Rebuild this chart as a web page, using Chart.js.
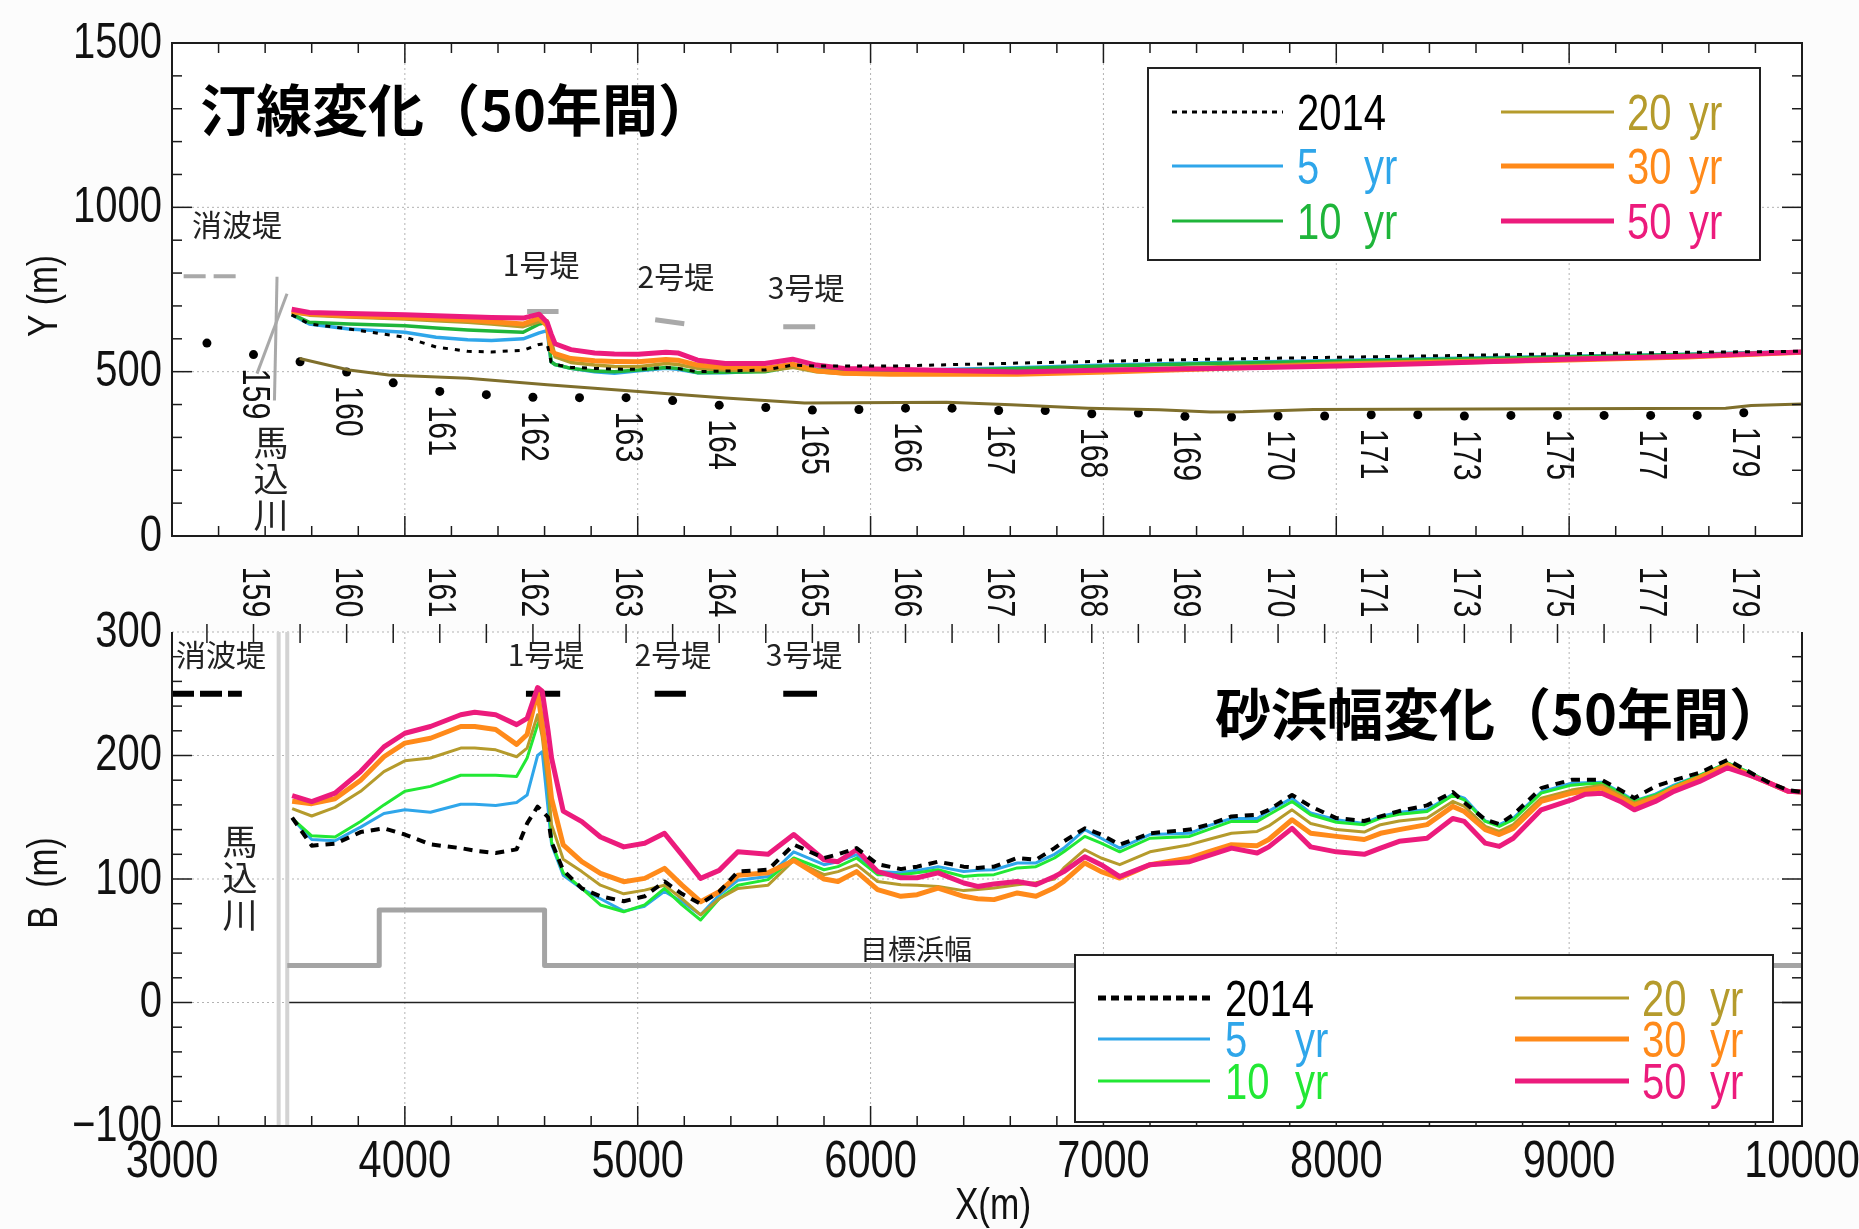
<!DOCTYPE html>
<html lang="ja">
<head>
<meta charset="utf-8">
<title>汀線変化・砂浜幅変化（50年間）</title>
<script src="https://cdn.jsdelivr.net/npm/chart.js@4.4.1/dist/chart.umd.min.js"></script>
<style>
  html, body { margin: 0; padding: 0; background: #fcfcfc; }
  #wrap { position: relative; width: 1859px; height: 1229px; overflow: hidden; }
  #wrap canvas { position: absolute; left: 0; top: 0; }
</style>
</head>
<body>
<div id="wrap">
  <canvas id="upper" width="1859" height="1229"></canvas>
  <canvas id="lower" width="1859" height="1229"></canvas>
</div>
<script>
// ================= data: upper panel (shoreline position Y, m) =================
const shoreX    = [3514, 3590, 3760, 4000, 4134, 4270, 4372, 4508, 4577, 4611, 4628, 4645, 4713, 4815, 4900, 5002, 5121, 5172, 5257, 5376, 5546, 5665, 5767, 5886, 6087, 6630, 7017, 7460, 8013, 8400, 8953, 9506, 10000];
const shore2014 = [673, 645, 630, 605, 575, 562, 560, 565, 583, 585, 530, 522, 513, 510, 508, 507, 513, 510, 500, 502, 505, 520, 517, 517, 517, 526, 532, 538, 544, 548, 554, 559, 562];
const shore5    = [673, 645, 630, 620, 605, 597, 595, 600, 618, 625, 530, 522, 510, 500, 495, 503, 510, 507, 497, 497, 503, 523, 508, 505, 503, 512, 520, 527, 534, 539, 546, 553, 561];
const shore10   = [675, 650, 645, 640, 633, 627, 624, 620, 645, 650, 530, 522, 510, 502, 500, 505, 513, 510, 497, 498, 500, 515, 505, 502, 500, 510, 517, 525, 532, 537, 545, 552, 560];
const shore20   = [680, 672, 666, 660, 655, 650, 645, 637, 652, 655, 600, 545, 528, 520, 516, 515, 525, 522, 510, 505, 503, 513, 500, 494, 493, 498, 505, 514, 526, 532, 540, 548, 559];
const shore30   = [683, 676, 670, 665, 661, 657, 652, 645, 663, 640, 565, 555, 540, 533, 531, 530, 537, 535, 520, 513, 510, 523, 503, 495, 492, 492, 499, 509, 522, 528, 535, 545, 559];
const shore50   = [690, 680, 677, 673, 670, 667, 665, 663, 675, 650, 615, 585, 567, 557, 554, 553, 559, 557, 535, 525, 525, 538, 520, 510, 507, 499, 505, 510, 517, 525, 537, 547, 560];

// survey baseline
const baseX = [3548, 3760, 3930, 4270, 4611, 5002, 5376, 5716, 6326, 6603, 6934, 7239, 7460, 7600, 7902, 9672, 9782, 10000];
const baseY = [540, 505, 490, 480, 460, 440, 420, 405, 407, 399, 389, 384, 377, 378, 385, 389, 397, 402];

// survey stations (points and numbers)
const stationX  = [3150, 3350, 3550, 3750, 3950, 4150, 4350, 4550, 4750, 4950, 5150, 5350, 5550, 5750, 5950, 6150, 6350, 6550, 6750, 6950, 7150, 7350, 7550, 7750, 7950, 8150, 8350, 8550, 8750, 8950, 9150, 9350, 9550, 9750];
const stationY  = [587, 552, 530, 499, 466, 440, 430, 422, 421, 421, 412, 398, 391, 383, 385, 389, 389, 382, 382, 372, 374, 364, 362, 365, 365, 369, 369, 365, 367, 367, 367, 367, 367, 375];
const stationNo = ['', '159', '', '160', '', '161', '', '162', '', '163', '', '164', '', '165', '', '166', '', '167', '', '168', '', '169', '', '170', '', '171', '', '173', '', '175', '', '177', '', '179'];

// structures drawn in the upper panel
const seawallUX = [3050, 3300], seawallUY = [790, 790];
const groin1UX = [4525, 4660], groin1UY = [683, 683];
const groin2UX = [5075, 5200], groin2UY = [658, 646];
const groin3UX = [5625, 5762], groin3UY = [637, 637];
const riverAUX = [3451, 3440], riverAUY = [789, 412];
const riverBUX = [3494, 3365], riverBUY = [737, 494];

// ================= data: lower panel (beach width B, m) =================
const widthX    = [3516, 3600, 3700, 3810, 3910, 4000, 4110, 4240, 4300, 4390, 4480, 4525, 4570, 4590, 4615, 4630, 4680, 4760, 4840, 4940, 5030, 5115, 5190, 5270, 5350, 5430, 5560, 5670, 5800, 5860, 5940, 6030, 6130, 6200, 6290, 6400, 6460, 6530, 6630, 6710, 6790, 6830, 6920, 6990, 7070, 7200, 7370, 7450, 7550, 7660, 7710, 7810, 7890, 8000, 8120, 8190, 8270, 8390, 8500, 8550, 8640, 8700, 8760, 8880, 9010, 9070, 9140, 9220, 9280, 9370, 9450, 9560, 9680, 9790, 9860, 9940, 10000];
const width2014 = [149.7, 127, 128.5, 138, 141, 136, 128, 125, 123, 121, 124, 145, 158.6, 155, 150, 130, 107, 92.4, 86, 82, 86, 98, 88, 80, 89.7, 106, 107.5, 127.8, 117, 120, 125, 112, 108, 110, 114, 110, 109, 110, 117, 115.6, 125, 130.5, 141, 136, 127.8, 137, 140, 144, 150.7, 152, 156, 168, 158.8, 149.3, 147, 150.7, 155, 159.6, 170.4, 162, 148, 144.5, 152, 173.6, 180.3, 180.3, 180.3, 172, 165.5, 175, 180, 186, 196.5, 185, 178, 172, 170.4];
const width5    = [149, 132, 131, 142, 153, 156, 154, 160.5, 160.5, 159.5, 162, 168, 200, 203, 157, 128, 103, 92, 84, 74, 78, 90, 81.6, 71, 87, 99, 102, 122, 111.6, 114, 119.7, 106, 105, 107, 110, 106, 107, 107.5, 113, 113, 120, 125, 140, 133, 125, 136, 137, 143, 149, 149, 155, 165.5, 153.4, 148, 145, 150.7, 154, 156, 168.7, 165.5, 147, 144, 149.3, 170.4, 177.6, 178, 178.4, 170.4, 163.3, 168.7, 176, 184, 194, 185, 178, 171, 170.4];
const width10   = [149, 135, 134, 146.5, 160, 171, 175, 184, 184, 184, 183, 198, 225, 233, 180, 130, 105, 92.4, 79, 73.5, 79, 92.4, 79, 66.8, 84, 95, 99.5, 117, 107.5, 110, 117, 103.5, 103.5, 105, 107.5, 102, 103, 103.5, 109, 110, 117, 122, 134.5, 129, 122, 133, 134.5, 140, 146.6, 146.6, 152, 162.8, 152, 146, 144, 149.3, 152.5, 154.6, 167.7, 164, 146.6, 142.6, 148, 169.5, 176, 177, 177.6, 169.5, 162.8, 168, 175, 184, 194, 185, 178, 171, 170.4];
const width20   = [157, 151, 158, 171, 187, 195.7, 198, 206, 206, 204.6, 199, 206, 233, 215, 175, 144, 116, 106, 95, 88, 91, 95, 84, 71, 84, 92.4, 95, 115, 103.5, 106, 111.6, 98, 95.4, 95, 94, 90.6, 91.5, 92.7, 95.4, 97, 100, 109, 123.7, 117, 111.6, 122, 127.8, 132, 137, 138.5, 143, 156, 145, 140, 138, 144, 147, 149.3, 162.8, 158.8, 142.6, 138.5, 144, 165.5, 172, 174, 176, 168, 161.5, 167, 174, 183, 193, 184, 178, 171, 170.4];
const width30   = [163, 161, 165, 180, 199, 210, 214, 223.5, 223.5, 221, 209, 217, 252, 225, 190, 165, 127.6, 114, 104.6, 97.8, 100.5, 108.6, 95, 81.6, 89.7, 103, 105, 115, 100, 98, 106, 91.4, 86, 87.3, 92.7, 86, 84, 83.3, 88.7, 86, 93, 98, 113, 106, 100.8, 111.6, 117, 122, 127.8, 127, 132, 148, 137, 134.5, 132, 137, 140, 144, 158.8, 154.6, 140, 136, 141, 162.8, 169.5, 171.5, 173.6, 165.5, 159.6, 165.5, 173.6, 182, 192.5, 183, 177.6, 171, 170.4];
const width50   = [167.6, 162.7, 169.5, 187, 207, 218, 223.5, 233, 235, 233, 225, 230, 255, 252, 220, 198, 155, 146.5, 134, 126, 129, 137, 119.5, 100.5, 107, 122, 120, 136, 115.6, 114, 123.7, 106, 101, 101, 105, 96.8, 94, 96, 98, 95.4, 102, 106, 118, 111.6, 102, 111.6, 114, 119, 125, 121, 126, 141, 126, 122, 120, 125, 130.5, 133, 149, 146.6, 129, 126.4, 133, 156, 164, 168.7, 169.5, 162.8, 156, 162.8, 171, 179, 190, 183, 177.6, 171, 170.4];

// target beach width (目標浜幅)
const targetX = [3495, 3890, 3890, 4600, 4600, 10000];
const targetB = [30, 30, 75, 75, 30, 30];

// structures drawn in the lower panel
const seawallLX = [3000, 3300];
const groin1LX = [4520, 4667], groin2LX = [5073, 5207], groin3LX = [5625, 5770];
const structLB = [250, 250];
const riverALX = [3458, 3458], riverBLX = [3495, 3495], riverLB = [-100, 300];

// legend entries
const seriesNum  = ['2014', '5', '10', '20', '30', '50'];
const seriesUnit = ['', 'yr', 'yr', 'yr', 'yr', 'yr'];

// ================= styling =================
const NUM_FONT = "'Liberation Sans',Arial,sans-serif";
const NARROW = 0.8;            // horizontal squeeze for the numeric font
const JP_FONT = "'Noto Sans CJK JP','Noto Sans CJK SC',sans-serif";
const C = {
  y2014: '#000000', blue: '#2fa6ea', greenU: '#1fb53a', greenL: '#22e834',
  olive: '#b59b2c', orange: '#ff8a1a', pink: '#ec1b7c',
  base: '#7f6f2c', struct: '#a9a9a9', river: '#d3d3d3', target: '#a4a4a4'
};

const pts = (xs, ys) => xs.map((v, i) => ({ x: v, y: ys[i] }));
const lineDS = (label, xs, ys, color, width, order, dash) => ({
  label, data: pts(xs, ys), borderColor: color, backgroundColor: color,
  borderWidth: width, borderDash: dash || [], pointRadius: 0, fill: false,
  tension: 0, order, borderCapStyle: 'butt', borderJoinStyle: 'round'
});

function seg(ctx, x1, y1, x2, y2) {
  ctx.beginPath(); ctx.moveTo(x1, y1); ctx.lineTo(x2, y2); ctx.stroke();
}

// condensed numeric text, optionally rotated
function numText(ctx, str, x, y, size, align, baseline, rot) {
  ctx.save();
  ctx.translate(x, y);
  if (rot) ctx.rotate(rot);
  ctx.scale(NARROW, 1);
  ctx.font = size + 'px ' + NUM_FONT;
  ctx.textAlign = align; ctx.textBaseline = baseline;
  ctx.fillText(str, 0, 0);
  ctx.restore();
}

// tick labels taken from the library's own tick list
function yTickLabels(ctx, scale, left) {
  ctx.fillStyle = '#111';
  scale.ticks.forEach(t => {
    numText(ctx, String(t.value).replace('-', '\u2212'), left - 10, scale.getPixelForValue(t.value) + 1, 50, 'right', 'middle');
  });
}

function drawLegend(ctx, L, styles) {
  ctx.save();
  ctx.fillStyle = '#ffffff';
  ctx.fillRect(L.l, L.t, L.r - L.l, L.b - L.t);
  ctx.strokeStyle = '#222'; ctx.lineWidth = 2; ctx.setLineDash([]);
  ctx.strokeRect(L.l, L.t, L.r - L.l, L.b - L.t);
  seriesNum.forEach((num, i) => {
    const col = i < 3 ? 0 : 1, row = i % 3, yy = L.rows[row], s = styles[i];
    ctx.strokeStyle = s.color; ctx.lineWidth = s.width; ctx.setLineDash(s.dash || []);
    seg(ctx, L.lineL[col], yy, L.lineR[col], yy);
    ctx.setLineDash([]);
    ctx.fillStyle = s.color;
    numText(ctx, num, L.numX[col], yy + 18, 50, 'left', 'alphabetic');
    if (seriesUnit[i]) numText(ctx, seriesUnit[i], L.unitX[col], yy + 18, 50, 'left', 'alphabetic');
  });
  ctx.restore();
}

function vertText(ctx, str, x, ys) {
  for (let i = 0; i < str.length; i++) ctx.fillText(str[i], x, ys[i]);
}

// ================= upper panel decorations =================
const upperDecor = {
  id: 'upperDecor',
  beforeDraw(chart) {
    const { ctx, chartArea: a } = chart;
    ctx.save(); ctx.fillStyle = '#ffffff';
    ctx.fillRect(a.left, a.top, a.right - a.left, a.bottom - a.top); ctx.restore();
  },
  beforeDatasetsDraw(chart) {
    const { ctx, chartArea: a, scales: { x, y } } = chart;
    ctx.save();
    ctx.strokeStyle = '#b3b3b3'; ctx.lineWidth = 1; ctx.setLineDash([2, 3]);
    for (let v = 4000; v < 10000; v += 1000) { const p = x.getPixelForValue(v); seg(ctx, p, a.top, p, a.bottom); }
    for (const v of [500, 1000]) { const p = y.getPixelForValue(v); seg(ctx, a.left, p, a.right, p); }
    ctx.restore();
  },
  afterDatasetsDraw(chart) {
    const { ctx, chartArea: a, scales: { x, y } } = chart;
    ctx.save();
    // frame and inward ticks
    ctx.setLineDash([]); ctx.strokeStyle = '#1c1c1c'; ctx.lineWidth = 2;
    ctx.strokeRect(a.left, a.top, a.right - a.left, a.bottom - a.top);
    ctx.lineWidth = 1.5;
    for (let v = 3200; v < 10000; v += 200) {
      const p = x.getPixelForValue(v), L = v % 1000 === 0 ? 20 : 10;
      seg(ctx, p, a.top, p, a.top + L); seg(ctx, p, a.bottom, p, a.bottom - L);
    }
    for (let v = 100; v < 1500; v += 100) {
      const p = y.getPixelForValue(v), L = v % 500 === 0 ? 20 : 10;
      seg(ctx, a.left, p, a.left + L, p); seg(ctx, a.right, p, a.right - L, p);
    }
    yTickLabels(ctx, y, a.left);
    // station numbers below the survey points
    ctx.fillStyle = '#111';
    stationNo.forEach((s, i) => {
      if (!s) return;
      numText(ctx, s, x.getPixelForValue(stationX[i]), y.getPixelForValue(stationY[i]) + 14, 38, 'left', 'middle', Math.PI / 2);
    });
    // structure names
    ctx.font = '30px ' + JP_FONT; ctx.textAlign = 'center'; ctx.textBaseline = 'middle'; ctx.fillStyle = '#222';
    ctx.fillText('消波堤', x.getPixelForValue(3279), y.getPixelForValue(946));
    ctx.fillText('1号堤', x.getPixelForValue(4585), y.getPixelForValue(825));
    ctx.fillText('2号堤', x.getPixelForValue(5164), y.getPixelForValue(788));
    ctx.fillText('3号堤', x.getPixelForValue(5723), y.getPixelForValue(755));
    ctx.font = '35px ' + JP_FONT;
    vertText(ctx, '馬込川', x.getPixelForValue(3425), [283, 173, 64].map(v => y.getPixelForValue(v)));
    // title
    ctx.font = 'bold 56px ' + JP_FONT; ctx.textAlign = 'left'; ctx.fillStyle = '#000';
    ctx.fillText('汀線変化（50年間）', 200, 110);
    // axis title
    ctx.fillStyle = '#111';
    numText(ctx, 'Y (m)', 45, 296, 42, 'center', 'middle', -Math.PI / 2);
    ctx.restore();
    drawLegend(ctx, {
      l: 1148, t: 68, r: 1760, b: 260, rows: [112, 166, 221],
      lineL: [1172, 1501], lineR: [1283, 1614], numX: [1297, 1627], unitX: [1364, 1689]
    }, [
      { color: C.y2014, width: 3, dash: [5, 5] }, { color: C.blue, width: 3 }, { color: C.greenU, width: 3 },
      { color: C.olive, width: 3 }, { color: C.orange, width: 5 }, { color: C.pink, width: 5 }
    ]);
  }
};

new Chart(document.getElementById('upper'), {
  type: 'line',
  data: {
    datasets: [
      lineDS('2014', shoreX, shore2014, C.y2014, 3, 0, [5, 7]),
      lineDS('50 yr', shoreX, shore50, C.pink, 5, 1),
      lineDS('30 yr', shoreX, shore30, C.orange, 5, 2),
      lineDS('20 yr', shoreX, shore20, C.olive, 3.5, 3),
      lineDS('10 yr', shoreX, shore10, C.greenU, 3.5, 4),
      lineDS('5 yr', shoreX, shore5, C.blue, 3.5, 5),
      lineDS('baseline', baseX, baseY, C.base, 3, 6),
      Object.assign(lineDS('stations', stationX, stationY, '#000', 0, 7), {
        showLine: false, pointRadius: 4.5, pointBorderWidth: 0, pointBackgroundColor: '#000'
      }),
      lineDS('消波堤', seawallUX, seawallUY, C.struct, 4, 8, [22, 8]),
      lineDS('1号堤', groin1UX, groin1UY, C.struct, 5, 8),
      lineDS('2号堤', groin2UX, groin2UY, C.struct, 5, 8),
      lineDS('3号堤', groin3UX, groin3UY, C.struct, 5, 8),
      lineDS('馬込川a', riverAUX, riverAUY, C.struct, 3, 9),
      lineDS('馬込川b', riverBUX, riverBUY, C.struct, 3, 9)
    ]
  },
  options: {
    responsive: false, animation: false, devicePixelRatio: 1, events: [],
    layout: { padding: { top: 43, right: 57, bottom: 693, left: 0 } },
    plugins: { legend: { display: false }, tooltip: { enabled: false } },
    scales: {
      x: { type: 'linear', min: 3000, max: 10000, display: false },
      y: {
        type: 'linear', min: 0, max: 1500,
        afterFit(s) { s.width = 172; },
        ticks: { stepSize: 500, display: false },
        grid: { display: false, drawTicks: false }, border: { display: false }
      }
    }
  },
  plugins: [upperDecor]
});

// ================= lower panel decorations =================
const lowerDecor = {
  id: 'lowerDecor',
  beforeDraw(chart) {
    const { ctx, chartArea: a } = chart;
    ctx.save(); ctx.fillStyle = '#ffffff';
    ctx.fillRect(a.left, a.top, a.right - a.left, a.bottom - a.top); ctx.restore();
  },
  beforeDatasetsDraw(chart) {
    const { ctx, chartArea: a, scales: { x, y } } = chart;
    ctx.save();
    ctx.strokeStyle = '#b3b3b3'; ctx.lineWidth = 1; ctx.setLineDash([2, 3]);
    for (let v = 4000; v < 10000; v += 1000) { const p = x.getPixelForValue(v); seg(ctx, p, a.top, p, a.bottom); }
    for (const v of [0, 100, 200, 300]) { const p = y.getPixelForValue(v); seg(ctx, a.left, p, a.right, p); }
    // zero line east of the river mouth
    ctx.setLineDash([]); ctx.strokeStyle = '#222'; ctx.lineWidth = 1.5;
    seg(ctx, x.getPixelForValue(3495), y.getPixelForValue(0), a.right, y.getPixelForValue(0));
    ctx.restore();
  },
  afterDatasetsDraw(chart) {
    const { ctx, chartArea: a, scales: { x, y } } = chart;
    ctx.save();
    ctx.setLineDash([]); ctx.strokeStyle = '#1c1c1c'; ctx.lineWidth = 2;
    seg(ctx, a.left, a.top, a.left, a.bottom);
    seg(ctx, a.right, a.top, a.right, a.bottom);
    seg(ctx, a.left - 1, a.bottom, a.right + 1, a.bottom);
    ctx.lineWidth = 1.5;
    for (let v = 3200; v < 10000; v += 200) {
      const p = x.getPixelForValue(v), L = v % 1000 === 0 ? 20 : 10;
      seg(ctx, p, a.bottom, p, a.bottom - L);
    }
    for (let v = -80; v < 300; v += 20) {
      const p = y.getPixelForValue(v), L = v % 100 === 0 ? 20 : 10;
      seg(ctx, a.left, p, a.left + L, p); seg(ctx, a.right, p, a.right - L, p);
    }
    yTickLabels(ctx, y, a.left);
    x.ticks.forEach(t => numText(ctx, String(t.value), x.getPixelForValue(t.value), a.bottom + 37, 52, 'center', 'middle'));
    // station ticks and numbers along the top edge
    ctx.fillStyle = '#111';
    stationX.forEach((sx, i) => {
      const p = x.getPixelForValue(sx);
      seg(ctx, p, a.top - 8, p, a.top + 11);
      if (stationNo[i]) numText(ctx, stationNo[i], p, a.top - 40, 38, 'center', 'middle', Math.PI / 2);
    });
    // structure names
    ctx.font = '30px ' + JP_FONT; ctx.fillStyle = '#222'; ctx.textAlign = 'center'; ctx.textBaseline = 'middle';
    ctx.fillText('消波堤', x.getPixelForValue(3210), y.getPixelForValue(281.5));
    ctx.fillText('1号堤', x.getPixelForValue(4606), y.getPixelForValue(281.5));
    ctx.fillText('2号堤', x.getPixelForValue(5151), y.getPixelForValue(281.5));
    ctx.fillText('3号堤', x.getPixelForValue(5714), y.getPixelForValue(281.5));
    ctx.font = '28px ' + JP_FONT;
    ctx.fillText('目標浜幅', x.getPixelForValue(6195), y.getPixelForValue(42.7));
    ctx.font = '35px ' + JP_FONT;
    vertText(ctx, '馬込川', x.getPixelForValue(3292), [130.6, 100.7, 70.7].map(v => y.getPixelForValue(v)));
    // title
    ctx.font = 'bold 56px ' + JP_FONT; ctx.textAlign = 'left'; ctx.fillStyle = '#000';
    ctx.fillText('砂浜幅変化（50年間）', 1215, 714);
    // axis titles
    ctx.fillStyle = '#111';
    numText(ctx, 'B  (m)', 45, 883, 42, 'center', 'middle', -Math.PI / 2);
    numText(ctx, 'X(m)', 993, 1207, 44, 'center', 'middle');
    ctx.restore();
    drawLegend(ctx, {
      l: 1075, t: 955, r: 1773, b: 1122, rows: [998, 1039, 1081],
      lineL: [1098, 1515], lineR: [1210, 1629], numX: [1225, 1642], unitX: [1295, 1710]
    }, [
      { color: C.y2014, width: 5, dash: [8, 5] }, { color: C.blue, width: 3 }, { color: C.greenL, width: 3 },
      { color: C.olive, width: 3 }, { color: C.orange, width: 5 }, { color: C.pink, width: 5 }
    ]);
  }
};

new Chart(document.getElementById('lower'), {
  type: 'line',
  data: {
    datasets: [
      lineDS('2014', widthX, width2014, C.y2014, 4, 0, [9, 7]),
      lineDS('50 yr', widthX, width50, C.pink, 5, 1),
      lineDS('30 yr', widthX, width30, C.orange, 5, 2),
      lineDS('20 yr', widthX, width20, C.olive, 3, 3),
      lineDS('10 yr', widthX, width10, C.greenL, 3, 4),
      lineDS('5 yr', widthX, width5, C.blue, 3, 5),
      lineDS('目標浜幅', targetX, targetB, C.target, 5, 6),
      lineDS('消波堤', seawallLX, structLB, '#000', 6, 7, [22, 6]),
      lineDS('1号堤', groin1LX, structLB, '#000', 6, 7),
      lineDS('2号堤', groin2LX, structLB, '#000', 6, 7),
      lineDS('3号堤', groin3LX, structLB, '#000', 6, 7),
      lineDS('馬込川a', riverALX, riverLB, C.river, 4, 8),
      lineDS('馬込川b', riverBLX, riverLB, C.river, 4, 8)
    ]
  },
  options: {
    responsive: false, animation: false, devicePixelRatio: 1, events: [],
    layout: { padding: { top: 632, right: 57, bottom: 0, left: 0 } },
    plugins: { legend: { display: false }, tooltip: { enabled: false } },
    scales: {
      x: {
        type: 'linear', min: 3000, max: 10000,
        afterFit(s) { s.height = 103; },
        ticks: { stepSize: 1000, display: false, autoSkip: false },
        grid: { display: false, drawTicks: false }, border: { display: false }
      },
      y: {
        type: 'linear', min: -100, max: 300,
        afterFit(s) { s.width = 172; },
        ticks: { stepSize: 100, display: false },
        grid: { display: false, drawTicks: false }, border: { display: false }
      }
    }
  },
  plugins: [lowerDecor]
});
</script>
</body>
</html>
